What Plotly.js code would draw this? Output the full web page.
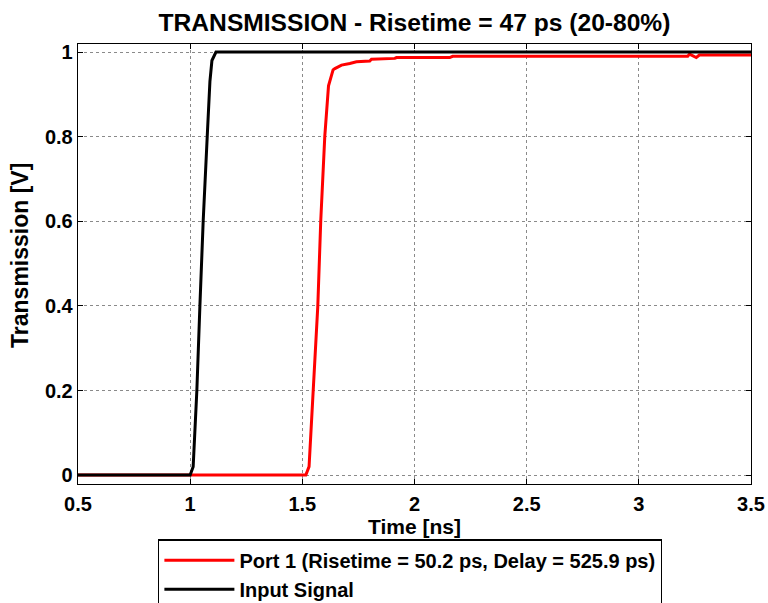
<!DOCTYPE html>
<html>
<head>
<meta charset="utf-8">
<script src="https://cdn.plot.ly/plotly-3.0.1.min.js"></script>
<style>html,body{margin:0;padding:0;background:#fff;}#chart{width:768px;height:603px;}</style>
</head>
<body>
<div id="chart"></div>
<script>
// Port 1 transmission (ns, V)
const portTime = [0.5, 1.5156, 1.530, 1.550, 1.569, 1.582, 1.600, 1.6167, 1.637, 1.645, 1.6746, 1.7116, 1.7414, 1.8007, 1.808, 1.912, 1.9196, 2.157, 2.170, 3.218, 3.226, 3.256, 3.27, 3.5];
const portValue = [0, 0, 0.02, 0.2, 0.4, 0.6, 0.8, 0.92, 0.958, 0.961, 0.969, 0.973, 0.977, 0.979, 0.983, 0.985, 0.987, 0.987, 0.990, 0.990, 0.995, 0.987, 0.993, 0.993];
// Input signal (ns, V)
const inputTime = [0.5, 1.0, 1.0134, 1.0298, 1.0434, 1.058, 1.076, 1.088, 1.097, 1.115, 3.5];
const inputValue = [0, 0, 0.02, 0.2, 0.4, 0.6, 0.8, 0.93, 0.98, 1.0, 1.0];

const xTicks = [0.5, 1, 1.5, 2, 2.5, 3, 3.5];
const yTicks = [0, 0.2, 0.4, 0.6, 0.8, 1];
const seriesNames = ['Port 1 (Risetime = 50.2 ps, Delay = 525.9 ps)', 'Input Signal'];

const fam = 'Liberation Sans, Arial, sans-serif';
const f = (s) => ({family: fam, size: s, color: '#000', weight: 'bold'});

const traces = [
  {x: portTime, y: portValue, mode: 'lines', name: seriesNames[0], line: {color: '#ff0000', width: 3}},
  {x: inputTime, y: inputValue, mode: 'lines', name: seriesNames[1], line: {color: '#000000', width: 3}}
];

const axisCommon = {
  showline: true, linecolor: '#000', linewidth: 1.3, mirror: 'ticks',
  ticks: 'inside', ticklen: 5, tickcolor: '#000', tickwidth: 1,
  showgrid: true, gridcolor: '#8a8a8a', griddash: 'dot', gridwidth: 1,
  zeroline: false, tickfont: f(20), automargin: false
};

const layout = {
  width: 768, height: 603,
  margin: {l: 78, r: 17, t: 44, b: 119, autoexpand: false},
  paper_bgcolor: '#fff', plot_bgcolor: '#fff',
  title: {text: 'TRANSMISSION - Risetime = 47 ps (20-80%)', font: f(24.6), x: 0.5, xref: 'paper', y: 17, yref: 'container', yanchor: 'middle'},
  xaxis: Object.assign({}, axisCommon, {range: [0.5, 3.5], tickvals: xTicks, ticktext: xTicks.map(String), ticklabelstandoff: 2, title: {text: 'Time [ns]', font: f(21), standoff: 4}}),
  yaxis: Object.assign({}, axisCommon, {range: [-0.021, 1.019], tickvals: yTicks, ticktext: yTicks.map(String), ticklabelstandoff: 0}),
  annotations: [{text: 'Transmission [V]', font: f(23), textangle: -90, xref: 'paper', yref: 'paper', x: -0.0862, y: 0.5205, xanchor: 'center', yanchor: 'middle', showarrow: false}],
  showlegend: true,
  legend: {x: 0.119, y: -0.126, xanchor: 'left', yanchor: 'top', xref: 'paper', yref: 'paper', bgcolor: '#fff', bordercolor: '#000', borderwidth: 1.3, font: f(20), itemwidth: 70, tracegroupgap: 0}
};

Plotly.newPlot('chart', traces, layout, {displayModeBar: false, staticPlot: true});
</script>
</body>
</html>
